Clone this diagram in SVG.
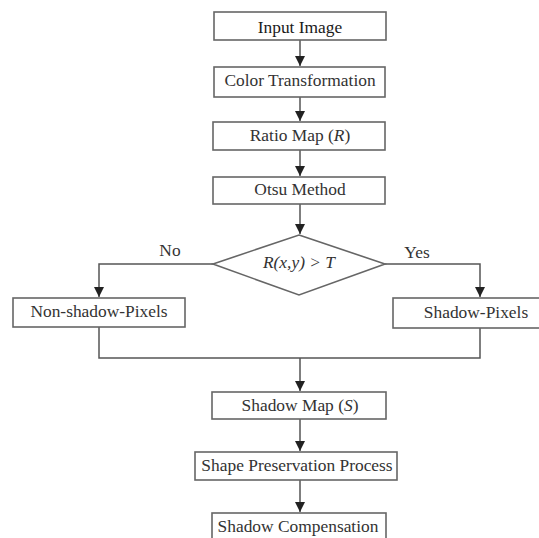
<svg xmlns="http://www.w3.org/2000/svg" width="539" height="538" viewBox="0 0 539 538">
<defs>
<style>
.box{fill:#fff;stroke:#666;stroke-width:1.6}
.t{font-family:"Liberation Serif","Times New Roman",serif;font-size:17.4px;fill:#333;text-anchor:middle}
.c{fill:none;stroke:#555;stroke-width:1.5}
</style>
<marker id="dn" markerUnits="userSpaceOnUse" markerWidth="10" markerHeight="11" refX="5" refY="10" viewBox="0 0 10 11">
<path d="M0,0 L10,0 L5,10 Z" fill="#222"/>
</marker>
</defs>
<rect width="539" height="538" fill="#fff"/>
<g id="connectors">
<path class="c" d="M300,40 V66" marker-end="url(#dn)"/>
<path class="c" d="M300,97 V121" marker-end="url(#dn)"/>
<path class="c" d="M300,150 V176" marker-end="url(#dn)"/>
<path class="c" d="M300,204 V234" marker-end="url(#dn)"/>
<path class="c" d="M213,264 H99 V297" marker-end="url(#dn)"/>
<path class="c" d="M385,264 H480 V297" marker-end="url(#dn)"/>
<path class="c" d="M99,327 V358 H480 V328"/>
<path class="c" d="M300,358 V391" marker-end="url(#dn)"/>
<path class="c" d="M300,419 V451" marker-end="url(#dn)"/>
<path class="c" d="M300,480 V512" marker-end="url(#dn)"/>
<text class="t" x="170" y="256">No</text>
<text class="t" x="417" y="258">Yes</text>
</g>
<g id="input-image">
<rect class="box" x="214" y="12" width="172" height="28"/>
<text class="t" x="300" y="33" style="fill:#1a1a1a">Input Image</text>
</g>
<g id="color-transformation">
<rect class="box" x="214" y="67" width="171" height="30"/>
<text class="t" x="300" y="86">Color Transformation</text>
</g>
<g id="ratio-map">
<rect class="box" x="213" y="122" width="172" height="28"/>
<text class="t" x="300" y="141">Ratio Map (<tspan font-style="italic">R</tspan>)</text>
</g>
<g id="otsu-method">
<rect class="box" x="213" y="177" width="172" height="27"/>
<text class="t" x="300" y="195">Otsu Method</text>
</g>
<g id="decision">
<path class="box" d="M299,235 L385,264 L299,295 L213,264 Z"/>
<text class="t" x="299" y="268" font-style="italic" font-size="16">R(x,y) &gt; T</text>
</g>
<g id="non-shadow-pixels">
<rect class="box" x="13" y="298" width="172" height="29"/>
<text class="t" x="99" y="317">Non-shadow-Pixels</text>
</g>
<g id="shadow-pixels">
<rect class="box" x="393" y="298" width="160" height="30"/>
<text class="t" x="476" y="318">Shadow-Pixels</text>
</g>
<g id="shadow-map">
<rect class="box" x="212" y="392" width="174" height="27"/>
<text class="t" x="300" y="411">Shadow Map (<tspan font-style="italic">S</tspan>)</text>
</g>
<g id="shape-preservation">
<rect class="box" x="195" y="452" width="202" height="28"/>
<text class="t" x="297" y="471">Shape Preservation Process</text>
</g>
<g id="shadow-compensation">
<rect class="box" x="212" y="513" width="174" height="30"/>
<text class="t" x="298" y="532">Shadow Compensation</text>
</g>
</svg>
